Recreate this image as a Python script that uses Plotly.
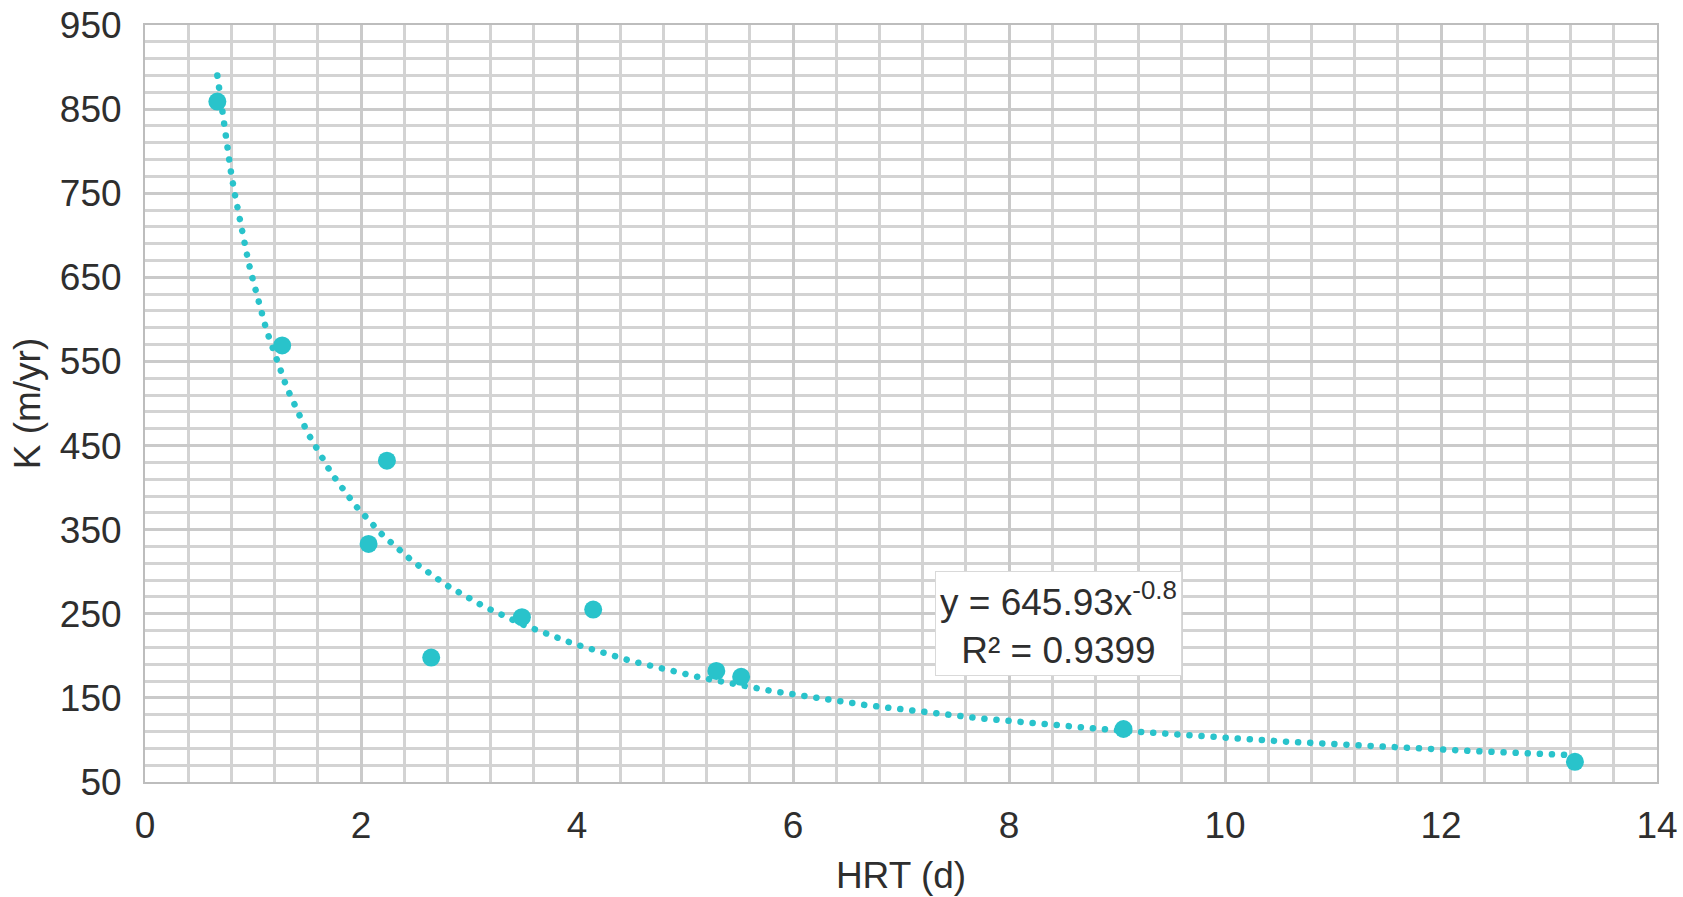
import numpy as np
import plotly.graph_objects as go

# Hydraulic retention time (d) and first-order rate constant K (m/yr)
hrt_d = [0.67, 1.27, 2.07, 2.24, 2.65, 3.49, 4.15, 5.29, 5.52, 9.06, 13.24]
k_m_yr = [859, 569, 333, 432, 198, 246, 255, 182, 175, 113, 74]

# Power-law fit reported for the data: y = a * x^b
fit_a = 645.93
fit_b = -0.8
fit_r2 = 0.9399

x_ticks = [0, 2, 4, 6, 8, 10, 12, 14]
y_ticks = [50, 150, 250, 350, 450, 550, 650, 750, 850, 950]

teal = "#29c3cb"
text_col = "#2e2e2e"
font_family = "Liberation Sans, Arial, sans-serif"
fs = 37

fit_x = np.linspace(min(hrt_d), max(hrt_d), 400)
fit_y = fit_a * fit_x ** fit_b

fig = go.Figure()

fig.add_trace(go.Scatter(
    x=fit_x, y=fit_y, mode="lines", name="trend",
    line=dict(color=teal, width=6.5, dash="0.1px,12px"),
    hoverinfo="skip", showlegend=False,
))

fig.add_trace(go.Scatter(
    x=hrt_d, y=k_m_yr, mode="markers",
    marker=dict(color=teal, size=18, line=dict(width=0)),
    showlegend=False,
))

fig.add_annotation(
    x=8.46, y=238, xref="x", yref="y",
    text=f"y = {fit_a:.2f}x<sup>{fit_b}</sup><br>R² = {fit_r2:.4f}",
    showarrow=False, align="center",
    font=dict(size=fs, color=text_col, family=font_family),
    bgcolor="white", bordercolor="#d9d9d9", borderwidth=1, borderpad=4,
)

fig.update_layout(
    width=1683, height=897,
    margin=dict(l=145, r=26, t=25, b=115),
    paper_bgcolor="white", plot_bgcolor="white",
    font=dict(family=font_family, size=fs, color=text_col),
    xaxis=dict(
        range=[0, 14], tickvals=x_ticks, automargin=False,
        showgrid=True, gridcolor="#cacaca", gridwidth=3,
        minor=dict(dtick=0.4, tick0=0, showgrid=True, gridcolor="#d3d3d3", gridwidth=2.5),
        showline=True, mirror=True, linecolor="#bdbdbd", linewidth=2,
        zeroline=False, ticks="", ticklabelstandoff=10,
        title=dict(text="HRT (d)", standoff=17, font=dict(size=fs, color=text_col)),
        tickfont=dict(size=fs, color=text_col),
    ),
    yaxis=dict(
        range=[50, 950], tickvals=y_ticks, automargin=False,
        showgrid=True, gridcolor="#cacaca", gridwidth=3,
        minor=dict(dtick=20, tick0=50, showgrid=True, gridcolor="#d3d3d3", gridwidth=2.5),
        showline=True, mirror=True, linecolor="#bdbdbd", linewidth=2,
        zeroline=False, ticks="", ticklabelstandoff=14,
        title=dict(text="K (m/yr)", standoff=8, font=dict(size=fs, color=text_col)),
        tickfont=dict(size=fs, color=text_col),
    ),
)

# Round caps turn the short dashes of the fitted curve into round dots
round_dots = """
var gd = document.querySelector('.plotly-graph-div');
function roundCaps() {
  gd.querySelectorAll('.scatterlayer .trace:first-child path.js-line')
    .forEach(function (p) { p.style.strokeLinecap = 'round'; });
}
roundCaps();
gd.on('plotly_afterplot', roundCaps);
"""

fig.write_html("out.html", post_script=round_dots)
